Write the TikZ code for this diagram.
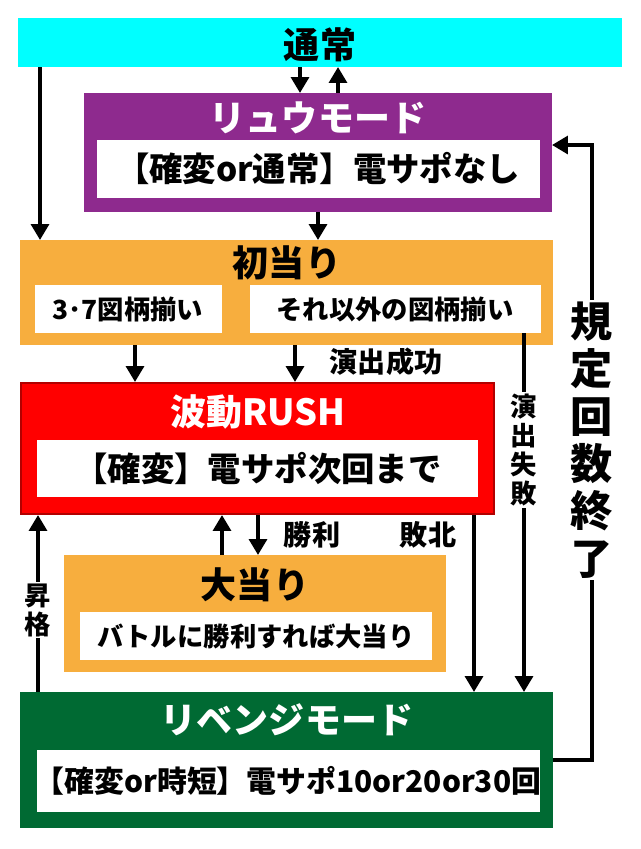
\documentclass[tikz,border=0pt]{standalone}
\usepackage{fontspec}
\setmainfont{Noto Sans CJK JP}
\usetikzlibrary{arrows.meta}
\definecolor{cy}{HTML}{00FFFF}
\definecolor{pu}{HTML}{8E2A8E}
\definecolor{og}{HTML}{F7AE3E}
\definecolor{rd}{HTML}{FF0000}
\definecolor{gr}{HTML}{006A33}
\tikzset{
  ttl/.style={font=\fontsize{20.5}{22}\selectfont\bfseries},
  txt/.style={font=\fontsize{19}{21}\selectfont\bfseries},
  lbl/.style={font=\fontsize{16}{17}\selectfont\bfseries},
  vlbl/.style={font=\fontsize{15}{16.5}\selectfont\bfseries,align=center,fill=white,inner sep=1pt},
  arr/.style={line width=2.4pt,-{Triangle[length=9pt,width=10pt]}},
  ln/.style={line width=2.4pt}
}
\begin{document}
\begin{tikzpicture}[x=0.02cm,y=-0.02cm]
\useasboundingbox (0,0) rectangle (640,849);
\fill[white] (0,0) rectangle (640,849);
% boxes
\fill[cy] (18,18) rectangle (622,67); \node[ttl] (tsu) at (320,45) {通常};
\fill[pu] (84,93) rectangle (552,212); \node[ttl,white] (ryu) at (318,118) {リュウモード};
\fill[white] (97,140) rectangle (540,198); \node[txt] (ryut) at (318,169) {【確変or通常】電サポなし};
\fill[og] (20,240) rectangle (553,345); \node[ttl] (sho) at (287,263) {初当り};
\fill[white] (35,285) rectangle (222,333); \node[font=\fontsize{15}{16}\selectfont\bfseries] (s37) at (128,309) {3･7図柄揃い};
\fill[white] (250,285) rectangle (541,333); \node[font=\fontsize{15}{16}\selectfont\bfseries] (soth) at (395,309) {それ以外の図柄揃い};
\fill[rd] (20,382) rectangle (495,515); \draw[red!70!black,line width=1.5pt] (21,383) rectangle (494,514);
\node[ttl,white] (ha) at (258,412) {波動RUSH};
\fill[white] (37,440) rectangle (478,497); \node[txt] (hat) at (258,469) {【確変】電サポ次回まで};
\fill[og] (64,555) rectangle (446,672); \node[ttl] (oa) at (255,585) {大当り};
\fill[white] (80,612) rectangle (432,660); \node[font=\fontsize{15}{16}\selectfont\bfseries] (oat) at (256,636) {バトルに勝利すれば大当り};
\fill[gr] (20,692) rectangle (553,828); \node[ttl,white] (rv) at (287,720) {リベンジモード};
\fill[white] (37,750) rectangle (540,812); \node[txt,font=\fontsize{17}{19}\selectfont\bfseries] (rvt) at (288,781) {【確変or時短】電サポ10or20or30回};
% arrows
\draw[arr] (300,67) -- (300,93);
\draw[arr] (338,93) -- (338,67);
\draw[arr] (318,212) -- (318,240);
\draw[arr] (40,67) -- (40,240);
\draw[arr] (135,345) -- (135,382);
\draw[arr] (295,345) -- (295,382);
\node[lbl] (l1) at (386,362) {演出成功};
\draw[arr] (524,333) -- (524,692);
\node[vlbl] (l2) at (524,450) {演\\出\\失\\敗};
\draw[arr] (222,555) -- (222,515);
\draw[arr] (258,515) -- (258,555);
\node[lbl] (l3) at (312,535) {勝利};
\node[lbl] (l4) at (428,535) {敗北};
\draw[arr] (474,515) -- (474,692);
\draw[arr] (38,692) -- (38,515);
\node[vlbl] (l5) at (38,610) {昇\\格};
\draw[ln] (553,760) -- (592,760) -- (592,145);
\draw[arr] (594,145) -- (552,145);
\node[vlbl,font=\fontsize{24}{27}\selectfont\bfseries] (l6) at (592,440) {規\\定\\回\\数\\終\\了};
\end{tikzpicture}
\end{document}
